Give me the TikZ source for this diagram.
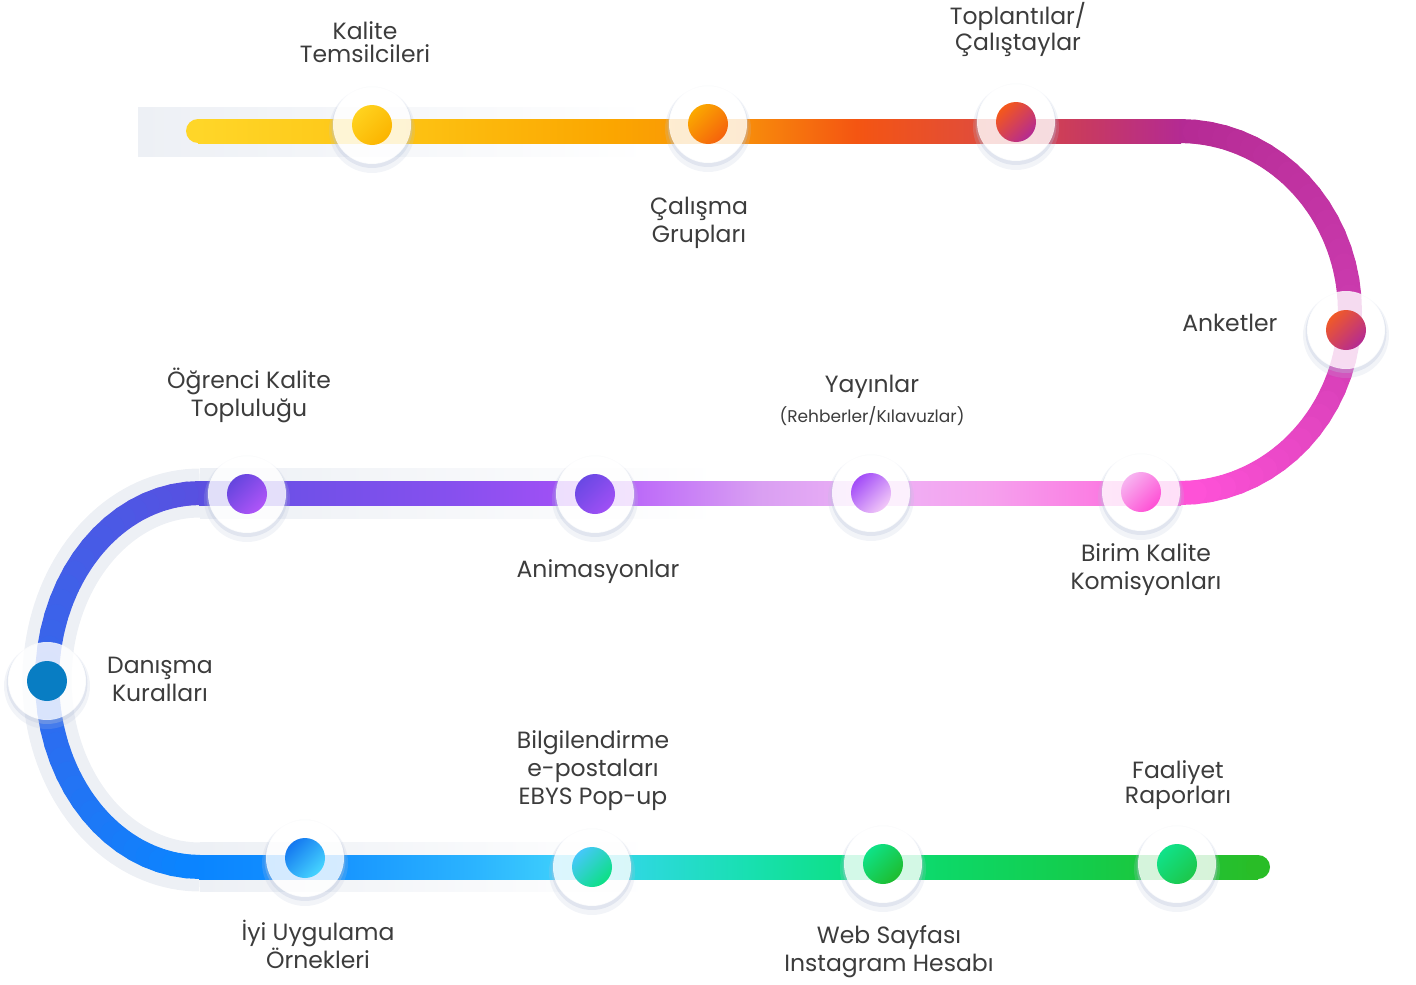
\documentclass[tikz,border=0pt]{standalone}
\usepackage{fontspec}
\setmainfont{Poppins}
\usetikzlibrary{positioning}

\definecolor{textgray}{HTML}{3C3C3C}
\definecolor{bandgray}{HTML}{EDF0F5}
\definecolor{haloshade}{HTML}{B8C3DA}
% top row
\definecolor{ta}{HTML}{FFD628}
\definecolor{tb}{HTML}{FDC414}
\definecolor{tc}{HTML}{FBA600}
\definecolor{td}{HTML}{F8900A}
\definecolor{te}{HTML}{F45512}
\definecolor{tf}{HTML}{E04C3C}
\definecolor{tg}{HTML}{C83A60}
\definecolor{th}{HTML}{B42A93}
% right turn
\definecolor{ra}{HTML}{B42A93}
\definecolor{rb}{HTML}{CB3AAE}
\definecolor{rc}{HTML}{FF52D8}
% middle row
\definecolor{ma}{HTML}{5A4FE0}
\definecolor{mb}{HTML}{7050E8}
\definecolor{mc}{HTML}{8650EE}
\definecolor{md}{HTML}{A050F5}
\definecolor{me}{HTML}{C070F8}
\definecolor{mf}{HTML}{D99FF2}
\definecolor{mg}{HTML}{EEB2F6}
\definecolor{mh}{HTML}{F5A2EE}
\definecolor{mi}{HTML}{FB7EE3}
\definecolor{mj}{HTML}{FF52D8}
% left turn
\definecolor{la}{HTML}{5A4FE0}
\definecolor{lb}{HTML}{3567EC}
\definecolor{lc}{HTML}{0A85FF}
% bottom row
\definecolor{ba}{HTML}{0A85FF}
\definecolor{bb}{HTML}{1592FF}
\definecolor{bc}{HTML}{2BB4FF}
\definecolor{bd}{HTML}{3CCDFC}
\definecolor{be}{HTML}{2ED8E0}
\definecolor{bf}{HTML}{18E0B0}
\definecolor{bg}{HTML}{0EE088}
\definecolor{bh}{HTML}{0DD868}
\definecolor{bi}{HTML}{14CC4A}
\definecolor{bj}{HTML}{29BD27}

\pgfdeclarehorizontalshading{toprow}{100bp}{color(0bp)=(ta); color(25bp)=(ta);
  color(35bp)=(tb); color(46bp)=(tc); color(52.5bp)=(td); color(58.5bp)=(te);
  color(65bp)=(tf); color(70bp)=(tg); color(75bp)=(th); color(100bp)=(th)}
\pgfdeclarehorizontalshading{midrow}{100bp}{color(0bp)=(ma); color(25bp)=(ma);
  color(30bp)=(mb); color(37.75bp)=(mc); color(43.5bp)=(md); color(48bp)=(me);
  color(53.5bp)=(mf); color(59.5bp)=(mg); color(65bp)=(mh); color(70.5bp)=(mi);
  color(75bp)=(mj); color(100bp)=(mj)}
\pgfdeclarehorizontalshading{botrow}{100bp}{color(0bp)=(ba); color(25bp)=(ba);
  color(31bp)=(bb); color(38bp)=(bc); color(41.8bp)=(bd); color(45.5bp)=(be);
  color(51bp)=(bf); color(55.35bp)=(bg); color(60bp)=(bh); color(67bp)=(bi);
  color(75bp)=(bj); color(100bp)=(bj)}

\begin{document}
\begin{tikzpicture}[x=1pt,y=-1pt,
  track/.style={line width=24pt,line cap=round},
  halo/.style={circle,fill=white,fill opacity=0.82,minimum size=78pt,inner sep=0pt},
  dot/.style={circle,minimum size=40pt,inner sep=0pt},
  lbl/.style={align=center,text=textgray,font=\fontsize{23.5}{28}\selectfont}]
  \useasboundingbox (0,0) rectangle (1416,985);

  % light bands behind the track
  \shade[left color=bandgray,right color=white] (138,107) rectangle (650,156);
  \shade[left color=bandgray,right color=white] (200,468) rectangle (720,518);
  \shade[left color=bandgray,right color=white] (200,842) rectangle (650,891);
  \draw[bandgray,line width=49pt] plot[domain=-90:-270,samples=80]
    ({200+153*cos(\x)},{680+187*sin(\x)});

  % turns
  \foreach \i in {0,...,35}{
    \pgfmathsetmacro\ta{-90+5*\i}
    \pgfmathsetmacro\tb{\ta+5}
    \pgfmathtruncatemacro\p{min(100,(\i+0.5)*200/36)}
    \pgfmathtruncatemacro\r{100-max(0,(\i+0.5)*200/36-100)}
    \draw[track,color=rb!\p!ra!\r!rc] ({1180+170*cos(\ta)},{312+181*sin(\ta)})
      -- ({1180+170*cos(\tb)},{312+181*sin(\tb)});
    \pgfmathsetmacro\ua{-90-5*\i}
    \pgfmathsetmacro\ub{\ua-5}
    \draw[track,color=lb!\p!la!\r!lc] ({200+153*cos(\ua)},{680+187*sin(\ua)})
      -- ({200+153*cos(\ub)},{680+187*sin(\ub)});
  }

  % straight runs
  \fill[ta] (198,131) circle (12);
  \shade[shading=toprow] (198,119) rectangle (1181,143);
  \shade[shading=midrow] (199,481) rectangle (1181,505);
  \shade[shading=botrow] (199,855) rectangle (1258,879);
  \fill[bj] (1258,867) circle (12);

  % stops
  \foreach \nm/\x/\y/\ca/\cb in {
      kalite/372/125/FFD21E/FBB400, calisma/708/124/FBA800/F5620C,
      toplanti/1016/122/F5581A/B42A93, anket/1346/330/F05A28/B42A93,
      birim/1141/492/F7B4F0/FF4FD5, yayin/871/493/A24CF8/F2C8F8,
      animasyon/595/494/6A48E4/A050F5, ogrenci/247/494/6545DE/B055F8,
      danisma/47/681/087DC3/087DC3, iyi/305/858/1478F0/46D5FF,
      bilgi/592/867/45C8FA/0CE083, web/883/864/0EE287/1EBC2E,
      faaliyet/1177/864/10E28A/1DC74A}{
    \fill[haloshade,opacity=0.18,even odd rule] (\x,\y+5) circle (43) (\x,\y) circle (38.5);
    \fill[haloshade,opacity=0.3,even odd rule] (\x,\y+2.5) circle (40.5) (\x,\y) circle (38.5);
    \node[halo] at (\x,\y) {};
    \definecolor{dotA}{HTML}{\ca}
    \definecolor{dotB}{HTML}{\cb}
    \node[dot,top color=dotA,bottom color=dotB,shading angle=45] (\nm) at (\x,\y) {};
  }

  % labels
  \node[lbl,font=\fontsize{23.5}{23}\selectfont] (kalite-t) at (365,42) {Kalite\\Temsilcileri};
  \node[lbl] (calisma-t) at (699,223) {Çalışma\\Grupları};
  \node[lbl,font=\fontsize{23.5}{26}\selectfont] (toplanti-t) at (1018,29) {Toplantılar/\\Çalıştaylar};
  \node[lbl,anchor=east] (anket-t) at (1281,323) {Anketler};
  \node[lbl] (ogrenci-t) at (249,395) {Öğrenci Kalite\\Topluluğu};
  \node[lbl] (yayin-t) at (872,387) {Yayınlar};
  \node[lbl,font=\fontsize{17}{20}\selectfont] (yayin-s) at (872,416) {(Rehberler/Kılavuzlar)};
  \node[lbl] (animasyon-t) at (598,572) {Animasyonlar};
  \node[lbl] (birim-t) at (1146,570) {Birim Kalite\\Komisyonları};
  \node[lbl] (danisma-t) at (160,679) {Danışma\\Kuralları};
  \node[lbl] (bilgi-t) at (593,771) {Bilgilendirme\\e-postaları\\EBYS Pop-up};
  \node[lbl,font=\fontsize{23.5}{22}\selectfont] (faaliyet-t) at (1178,785) {Faaliyet\\Raporları};
  \node[lbl] (iyi-t) at (318,944) {İyi Uygulama\\Örnekleri};
  \node[lbl] (web-t) at (889,952) {Web Sayfası\\Instagram Hesabı};
\end{tikzpicture}
\end{document}
